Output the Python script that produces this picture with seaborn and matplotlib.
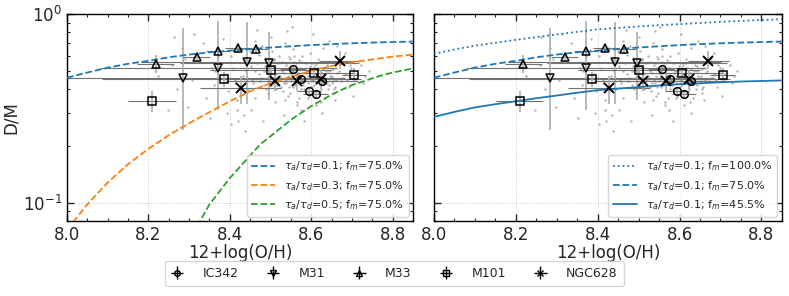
import numpy as np
import matplotlib
matplotlib.use("Agg")
import matplotlib.pyplot as plt
import seaborn as sns
from matplotlib.ticker import AutoMinorLocator, NullFormatter, LogLocator

# galaxy points: 12+log(O/H), D/M and error bars
ic342_oh = [8.556, 8.576, 8.594, 8.611, 8.627]
ic342_dm = [0.512, 0.453, 0.391, 0.377, 0.442]
ic342_xerr = [0.03, 0.03, 0.03, 0.03, 0.03]
ic342_ylo = [0.02, 0.02, 0.02, 0.02, 0.02]
ic342_yhi = [0.02, 0.02, 0.02, 0.02, 0.02]

m31_oh = [8.284, 8.371, 8.442, 8.497]
m31_dm = [0.458, 0.518, 0.557, 0.551]
m31_xerr = [0.40, 0.29, 0.26, 0.22]
m31_ylo = [0.215, 0.208, 0.223, 0.20]
m31_yhi = [0.385, 0.40, 0.35, 0.25]

m33_oh = [8.218, 8.319, 8.371, 8.419, 8.464]
m33_dm = [0.543, 0.592, 0.637, 0.661, 0.653]
m33_xerr = [0.045, 0.033, 0.03, 0.03, 0.03]
m33_ylo = [0.055, 0.04, 0.04, 0.04, 0.04]
m33_yhi = [0.065, 0.04, 0.04, 0.04, 0.04]

m101_oh = [8.209, 8.386, 8.501, 8.607, 8.705]
m101_dm = [0.347, 0.453, 0.505, 0.487, 0.476]
m101_xerr = [0.058, 0.30, 0.15, 0.10, 0.03]
m101_ylo = [0.044, 0.04, 0.04, 0.04, 0.04]
m101_yhi = [0.044, 0.04, 0.04, 0.04, 0.04]

ngc628_oh = [8.427, 8.511, 8.566, 8.623, 8.670]
ngc628_dm = [0.406, 0.442, 0.442, 0.453, 0.564]
ngc628_xerr = [0.10, 0.12, 0.15, 0.10, 0.05]
ngc628_ylo = [0.072, 0.05, 0.05, 0.05, 0.052]
ngc628_yhi = [0.064, 0.05, 0.05, 0.05, 0.073]

# background pixel cloud
bg_oh = [8.262, 8.258, 8.271, 8.247, 8.313, 8.306, 8.297, 8.283, 8.334, 8.342,
         8.351, 8.362, 8.384, 8.393, 8.404, 8.421, 8.418, 8.452, 8.437, 8.468,
         8.481, 8.533, 8.541, 8.552, 8.574, 8.583, 8.612, 8.627, 8.644, 8.663,
         8.684, 8.711, 8.722, 8.741, 8.733, 8.703, 8.659, 8.502, 8.463, 8.604,
         8.224, 8.291,
         8.381, 8.392, 8.403, 8.414, 8.409, 8.426, 8.433, 8.437, 8.444, 8.441,
         8.452, 8.455, 8.463, 8.466, 8.472, 8.478, 8.484, 8.487, 8.493, 8.496,
         8.503, 8.506, 8.512, 8.515, 8.522, 8.527, 8.532, 8.536, 8.543, 8.547,
         8.551, 8.556, 8.562, 8.564, 8.571, 8.577, 8.583, 8.586, 8.592, 8.597,
         8.603, 8.607, 8.613, 8.616, 8.622, 8.628, 8.634, 8.636, 8.643, 8.647,
         8.652, 8.656, 8.662, 8.672, 8.676, 8.683, 8.692, 8.695, 8.702, 8.364,
         8.474, 8.483, 8.491, 8.502, 8.505, 8.513, 8.521, 8.524, 8.533, 8.537,
         8.542, 8.546, 8.553, 8.557, 8.561, 8.566, 8.573, 8.576, 8.582, 8.587,
         8.592, 8.598, 8.602, 8.605, 8.611, 8.617, 8.623, 8.626, 8.632, 8.638,
         8.641, 8.645, 8.651, 8.654, 8.514, 8.531, 8.548, 8.571, 8.593, 8.494,
         8.509, 8.558, 8.581, 8.601, 8.618, 8.461, 8.453, 8.443, 8.523, 8.542,
         8.563, 8.579, 8.604, 8.621, 8.643, 8.661, 8.498, 8.549, 8.591, 8.612,
         8.477, 8.486, 8.497, 8.508, 8.517, 8.528, 8.538, 8.545, 8.555, 8.568,
         8.575, 8.585, 8.595, 8.606, 8.615, 8.624, 8.633, 8.642, 8.653, 8.664,
         8.488, 8.499, 8.511, 8.519, 8.529, 8.539, 8.551, 8.559, 8.569, 8.578,
         8.589, 8.599, 8.609, 8.619, 8.629, 8.639, 8.649, 8.658, 8.668, 8.679,
         8.412, 8.428, 8.446, 8.458, 8.471, 8.689, 8.698, 8.712, 8.727, 8.396,
         8.371, 8.356, 8.418, 8.436, 8.449, 8.535, 8.565, 8.594, 8.625, 8.655]
bg_dm = [0.76, 0.54, 0.40, 0.31, 0.78, 0.45, 0.32, 0.66, 0.70, 0.36,
         0.28, 0.42, 0.74, 0.30, 0.26, 0.27, 0.35, 0.31, 0.24, 0.82,
         0.27, 0.29, 0.81, 0.85, 0.31, 0.27, 0.33, 0.30, 0.72, 0.68,
         0.62, 0.44, 0.54, 0.50, 0.47, 0.37, 0.35, 0.76, 0.72, 0.78,
         0.47, 0.58,
         0.55, 0.48, 0.60, 0.43, 0.52, 0.66, 0.47, 0.58, 0.40, 0.50,
         0.62, 0.45, 0.36, 0.55, 0.48, 0.68, 0.42, 0.58, 0.38, 0.52,
         0.64, 0.46, 0.34, 0.55, 0.60, 0.41, 0.49, 0.70, 0.37, 0.58,
         0.44, 0.65, 0.52, 0.33, 0.47, 0.60, 0.40, 0.55, 0.36, 0.62,
         0.45, 0.51, 0.39, 0.58, 0.44, 0.66, 0.36, 0.50, 0.42, 0.56,
         0.47, 0.38, 0.52, 0.44, 0.58, 0.48, 0.41, 0.54, 0.50, 0.50,
         0.44, 0.50, 0.46, 0.42, 0.53, 0.48, 0.45, 0.51, 0.43, 0.54,
         0.47, 0.41, 0.50, 0.56, 0.43, 0.47, 0.52, 0.40, 0.45, 0.49,
         0.43, 0.53, 0.41, 0.48, 0.46, 0.52, 0.42, 0.49, 0.45, 0.54,
         0.40, 0.47, 0.43, 0.51, 0.40, 0.39, 0.38, 0.36, 0.39, 0.56,
         0.58, 0.60, 0.42, 0.55, 0.38, 0.50, 0.53, 0.46, 0.47, 0.52,
         0.55, 0.51, 0.44, 0.47, 0.50, 0.45, 0.49, 0.46, 0.47, 0.43,
         0.46, 0.53, 0.44, 0.57, 0.42, 0.50, 0.45, 0.59, 0.41, 0.49,
         0.56, 0.44, 0.50, 0.42, 0.55, 0.40, 0.48, 0.53, 0.44, 0.49,
         0.40, 0.48, 0.52, 0.44, 0.56, 0.43, 0.48, 0.42, 0.57, 0.45,
         0.50, 0.41, 0.54, 0.46, 0.51, 0.43, 0.46, 0.41, 0.50, 0.46,
         0.45, 0.39, 0.57, 0.43, 0.61, 0.45, 0.52, 0.48, 0.43, 0.39,
         0.60, 0.52, 0.31, 0.29, 0.64, 0.35, 0.34, 0.37, 0.34, 0.40]

# model tracks
model_oh = [8.0, 8.05, 8.1, 8.15, 8.2, 8.25, 8.3, 8.35, 8.4, 8.45,
            8.5, 8.55, 8.6, 8.65, 8.7, 8.75, 8.8, 8.85]
tau01_f75 = [0.46, 0.49, 0.52, 0.545, 0.565, 0.59, 0.61, 0.627, 0.64, 0.653,
             0.665, 0.675, 0.685, 0.693, 0.70, 0.706, 0.711, 0.715]
tau03_f75 = [0.072, 0.098, 0.128, 0.16, 0.193, 0.228, 0.264, 0.302, 0.345, 0.39,
             0.43, 0.465, 0.50, 0.53, 0.555, 0.575, 0.595, 0.61]
tau05_oh = [8.32, 8.35, 8.40, 8.45, 8.476, 8.5, 8.55, 8.572, 8.6, 8.653,
            8.7, 8.768, 8.8, 8.85]
tau05_f75 = [0.075, 0.098, 0.135, 0.178, 0.205, 0.225, 0.275, 0.296, 0.325, 0.377,
             0.42, 0.47, 0.49, 0.515]
tau01_f100 = [0.615, 0.65, 0.68, 0.705, 0.73, 0.755, 0.78, 0.805, 0.83, 0.845,
              0.86, 0.873, 0.885, 0.897, 0.91, 0.92, 0.93, 0.94]
tau01_f455 = [0.285, 0.303, 0.32, 0.333, 0.345, 0.358, 0.37, 0.383, 0.395, 0.403,
              0.41, 0.418, 0.425, 0.43, 0.435, 0.439, 0.442, 0.445]

galaxies = [
    ("IC342", "o", ic342_oh, ic342_dm, ic342_xerr, ic342_ylo, ic342_yhi),
    ("M31", "v", m31_oh, m31_dm, m31_xerr, m31_ylo, m31_yhi),
    ("M33", "^", m33_oh, m33_dm, m33_xerr, m33_ylo, m33_yhi),
    ("M101", "s", m101_oh, m101_dm, m101_xerr, m101_ylo, m101_yhi),
    ("NGC628", "x", ngc628_oh, ngc628_dm, ngc628_xerr, ngc628_ylo, ngc628_yhi),
]

sns.set_style("ticks")
plt.rcParams["font.family"] = ["DejaVu Sans"]
plt.rcParams["xtick.direction"] = "in"
plt.rcParams["ytick.direction"] = "in"

fig = plt.figure(figsize=(7.89, 2.96), dpi=100)
ax_l = fig.add_axes((0.0849, 0.2534, 0.4385, 0.699))
ax_r = fig.add_axes((0.550, 0.2534, 0.441, 0.699))


def draw_data(ax):
    sns.scatterplot(x=bg_oh, y=bg_dm, ax=ax, s=3, color="0.5", alpha=0.6,
                    linewidth=0, zorder=1)
    for name, mk, oh, dm, xe, ylo, yhi in galaxies:
        ax.errorbar(oh, dm, xerr=xe, fmt="none", ecolor="0.45", elinewidth=0.8,
                    zorder=2)
        ax.errorbar(oh, dm, yerr=[ylo, yhi], fmt="none", ecolor="0.68",
                    elinewidth=1.2, zorder=2)
        if mk == "x":
            ax.plot(oh, dm, ls="none", marker=mk, color="k", ms=6.5, mew=1.4, zorder=4)
        else:
            ax.plot(oh, dm, ls="none", marker=mk, mfc="none", mec="k", ms=5.5,
                    mew=1.1, zorder=4)


def style_axes(ax, ylabels=True):
    ax.set_yscale("log")
    ax.set_xlim(8.0, 8.85)
    ax.set_ylim(0.08, 1.0)
    ax.xaxis.set_minor_locator(AutoMinorLocator(4))
    ax.yaxis.set_major_locator(LogLocator(base=10, numticks=5))
    ax.yaxis.set_minor_locator(LogLocator(base=10, subs=np.arange(2, 10), numticks=10))
    ax.yaxis.set_minor_formatter(NullFormatter())
    ax.tick_params(which="both", direction="in", top=True, right=True)
    ax.tick_params(which="major", length=5, width=1, labelsize=12)
    ax.tick_params(which="minor", length=2.5, width=0.8)
    if not ylabels:
        ax.tick_params(axis="y", which="both", labelleft=False)
    ax.set_xticks([8.0, 8.2, 8.4, 8.6, 8.8])
    ax.grid(True, which="major", ls=":", lw=0.6, color="0.75")
    ax.set_xlabel("12+log(O/H)", fontsize=12, labelpad=0)
    for sp in ax.spines.values():
        sp.set_linewidth(1.0)
        sp.set_color("k")


draw_data(ax_l)
sns.lineplot(x=model_oh, y=tau01_f75, ax=ax_l, color="#1f77b4", ls="--", lw=1.3,
             label=r"$\tau_a/\tau_d$=0.1; f$_m$=75.0%", zorder=3)
sns.lineplot(x=model_oh, y=tau03_f75, ax=ax_l, color="#ff7f0e", ls="--", lw=1.3,
             label=r"$\tau_a/\tau_d$=0.3; f$_m$=75.0%", zorder=3)
sns.lineplot(x=tau05_oh, y=tau05_f75, ax=ax_l, color="#2ca02c", ls="--", lw=1.3,
             label=r"$\tau_a/\tau_d$=0.5; f$_m$=75.0%", zorder=3)
style_axes(ax_l)
ax_l.set_ylabel("D/M", fontsize=12, labelpad=2)
ax_l.legend(loc="lower right", fontsize=8, frameon=True, handlelength=2.2,
            borderaxespad=0.4, labelspacing=0.5)

draw_data(ax_r)
sns.lineplot(x=model_oh, y=tau01_f100, ax=ax_r, color="#1f77b4", ls=":", lw=1.3,
             label=r"$\tau_a/\tau_d$=0.1; f$_m$=100.0%", zorder=3)
sns.lineplot(x=model_oh, y=tau01_f75, ax=ax_r, color="#1f77b4", ls="--", lw=1.3,
             label=r"$\tau_a/\tau_d$=0.1; f$_m$=75.0%", zorder=3)
sns.lineplot(x=model_oh, y=tau01_f455, ax=ax_r, color="#1f77b4", ls="-", lw=1.3,
             label=r"$\tau_a/\tau_d$=0.1; f$_m$=45.5%", zorder=3)
style_axes(ax_r, ylabels=False)
ax_r.set_ylabel("")
ax_r.legend(loc="lower right", fontsize=8, frameon=True, handlelength=2.2,
            borderaxespad=0.4, labelspacing=0.5)

# shared legend for galaxies (proxy handles, nothing visible in axes)
handles = []
for name, mk, oh, dm, xe, ylo, yhi in galaxies:
    h = ax_l.errorbar([np.nan], [np.nan], xerr=[0.01], yerr=[0.01], fmt=mk,
                      color="k", mfc="none", ms=4, mew=1.0, elinewidth=1.0,
                      label=name)
    handles.append(h)
fig.legend(handles=handles, labels=[g[0] for g in galaxies], loc="center",
           bbox_to_anchor=(0.5, 0.076), ncol=5, fontsize=9, frameon=True,
           handlelength=0.9, columnspacing=2.3, handletextpad=1.6,
           borderpad=0.5)

fig.savefig("out.png", dpi=100)
